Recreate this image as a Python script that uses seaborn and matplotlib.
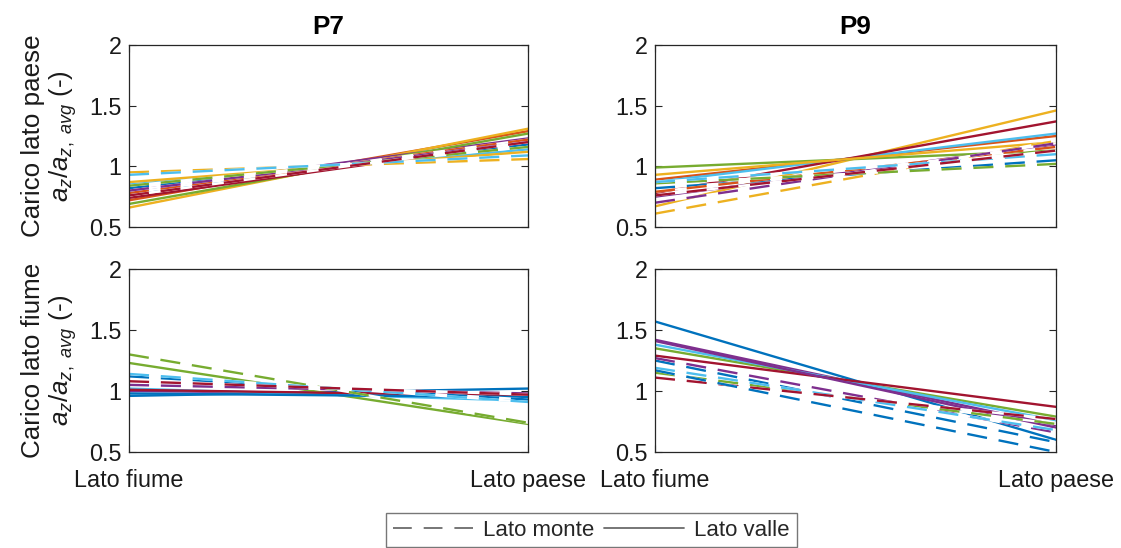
import numpy as np
import pandas as pd
import matplotlib
matplotlib.use("Agg")
import matplotlib.pyplot as plt
from matplotlib.lines import Line2D
import seaborn as sns

sns.set_theme(style="white")
plt.rcParams['font.family'] = ['Liberation Sans', 'DejaVu Sans']
plt.rcParams['mathtext.fontset'] = 'custom'
plt.rcParams['mathtext.rm'] = 'Liberation Sans'
plt.rcParams['mathtext.it'] = 'Liberation Sans:italic'

# MATLAB default colour order
C_BLUE, C_ORANGE, C_YELLOW, C_PURPLE, C_GREEN, C_CYAN, C_RED = (
    "#0072BD", "#D95319", "#EDB120", "#7E2F8E", "#77AC30", "#4DBEEE", "#A2142F")

x_labels = ["Lato fiume", "Lato paese"]
col_titles = ["P7", "P9"]
row_labels = ["Carico lato paese", "Carico lato fiume"]
legend_labels = ["Lato monte", "Lato valle"]

# ---- P7, carico lato paese ----
p7_paese_monte_fiume = [0.82, 0.78, 0.95, 0.80, 0.84, 0.93, 0.76]
p7_paese_monte_paese = [1.18, 1.22, 1.06, 1.20, 1.16, 1.09, 1.20]
p7_paese_monte_col = [C_BLUE, C_ORANGE, C_YELLOW, C_PURPLE, C_GREEN, C_CYAN, C_RED]
p7_paese_valle_fiume = [0.78, 0.72, 0.66, 0.80, 0.69, 0.85, 0.74, 0.87]
p7_paese_valle_paese = [1.22, 1.29, 1.31, 1.23, 1.27, 1.14, 1.20, 1.12]
p7_paese_valle_col = [C_BLUE, C_ORANGE, C_YELLOW, C_PURPLE, C_GREEN, C_CYAN, C_RED, C_YELLOW]

# ---- P9, carico lato paese ----
p9_paese_monte_fiume = [0.82, 0.79, 0.61, 0.70, 0.86, 0.87, 0.76]
p9_paese_monte_paese = [1.05, 1.16, 1.21, 1.19, 1.02, 1.10, 1.13]
p9_paese_monte_col = [C_BLUE, C_ORANGE, C_YELLOW, C_PURPLE, C_GREEN, C_CYAN, C_RED]
p9_paese_valle_fiume = [0.89, 0.67, 0.75, 0.99, 0.87, 0.78, 0.93]
p9_paese_valle_paese = [1.25, 1.46, 1.18, 1.13, 1.27, 1.37, 1.20]
p9_paese_valle_col = [C_ORANGE, C_YELLOW, C_PURPLE, C_GREEN, C_CYAN, C_RED, C_YELLOW]

# ---- P7, carico lato fiume ----
p7_fiume_monte_fiume = [1.12, 1.05, 1.30, 1.14, 1.08]
p7_fiume_monte_paese = [0.93, 0.98, 0.74, 0.91, 0.97]
p7_fiume_monte_col = [C_BLUE, C_PURPLE, C_GREEN, C_CYAN, C_RED]
p7_fiume_valle_fiume = [0.96, 1.00, 1.23, 1.02, 1.01, 0.98]
p7_fiume_valle_paese = [1.02, 0.97, 0.73, 0.92, 0.96, 0.95]
p7_fiume_valle_col = [C_BLUE, C_PURPLE, C_GREEN, C_CYAN, C_RED, C_BLUE]

# ---- P9, carico lato fiume ----
p9_fiume_monte_fiume = [1.25, 1.27, 1.15, 1.19, 1.11, 1.17]
p9_fiume_monte_paese = [0.58, 0.66, 0.73, 0.68, 0.77, 0.50]
p9_fiume_monte_col = [C_BLUE, C_PURPLE, C_GREEN, C_CYAN, C_RED, C_BLUE]
p9_fiume_valle_fiume = [1.57, 1.42, 1.35, 1.38, 1.29, 1.41]
p9_fiume_valle_paese = [0.60, 0.72, 0.79, 0.76, 0.87, 0.70]
p9_fiume_valle_col = [C_BLUE, C_PURPLE, C_GREEN, C_CYAN, C_RED, C_PURPLE]

panels = [
    [(p7_paese_monte_fiume, p7_paese_monte_paese, p7_paese_monte_col,
      p7_paese_valle_fiume, p7_paese_valle_paese, p7_paese_valle_col),
     (p9_paese_monte_fiume, p9_paese_monte_paese, p9_paese_monte_col,
      p9_paese_valle_fiume, p9_paese_valle_paese, p9_paese_valle_col)],
    [(p7_fiume_monte_fiume, p7_fiume_monte_paese, p7_fiume_monte_col,
      p7_fiume_valle_fiume, p7_fiume_valle_paese, p7_fiume_valle_col),
     (p9_fiume_monte_fiume, p9_fiume_monte_paese, p9_fiume_monte_col,
      p9_fiume_valle_fiume, p9_fiume_valle_paese, p9_fiume_valle_col)],
]

W, H = 1121, 548
fig = plt.figure(figsize=(W / 100, H / 100), dpi=100)

col_x = [(129, 399), (655, 401)]
row_y = [(45, 182), (269, 183)]
DASH = (0, (8.5, 5.0))
LW = 1.7
FS = 16.8
FS_LAB = 18.7
AX_COL = "#262626"

for r in range(2):
    for c in range(2):
        x0, w = col_x[c]
        y0, h = row_y[r]
        ax = fig.add_axes([x0 / W, 1 - (y0 + h) / H, w / W, h / H])
        mf, mp, mc, vf, vp, vc = panels[r][c]
        for a, b, col in zip(vf, vp, vc):
            sns.lineplot(x=[0, 1], y=[a, b], ax=ax, color=col, lw=LW,
                         linestyle="-", legend=False)
        for a, b, col in zip(mf, mp, mc):
            sns.lineplot(x=[0, 1], y=[a, b], ax=ax, color="white", lw=LW,
                         linestyle="-", legend=False)
            sns.lineplot(x=[0, 1], y=[a, b], ax=ax, color=col, lw=LW,
                         linestyle=DASH, legend=False)
        ax.set_xlim(0, 1)
        ax.set_ylim(0.5, 2)
        ax.set_yticks([0.5, 1, 1.5, 2])
        ax.set_yticklabels(["0.5", "1", "1.5", "2"])
        ax.set_xticks([0, 1])
        if r == 1:
            ax.set_xticklabels(x_labels)
        else:
            ax.set_xticklabels([])
            ax.set_title(col_titles[c], fontsize=FS_LAB, fontweight="bold",
                         color="black", pad=8)
        ax.tick_params(direction="in", length=5, width=0.8, colors=AX_COL,
                       labelsize=FS, labelcolor="#1a1a1a", top=True, right=True,
                       left=True, bottom=True)
        ax.tick_params(axis="y", pad=5.5)
        ax.tick_params(axis="x", pad=12)
        for s in ax.spines.values():
            s.set_color(AX_COL)
            s.set_linewidth(0.9)
            s.set_visible(True)
        ax.set_xlabel("")
        if c == 0:
            ax.set_ylabel(row_labels[r] + "\n" + r"$a_z/a_{z,\ avg}$ (-)",
                          fontsize=FS_LAB, color="#1a1a1a", linespacing=1.1)
            ax.yaxis.set_label_coords(-0.125, 0.5)
        else:
            ax.set_ylabel("")
        ax.grid(False)

handles = [Line2D([], [], color="#6b6b6b", lw=1.3, linestyle=(0, (10.4, 6.6))),
           Line2D([], [], color="#6b6b6b", lw=1.3, linestyle="-")]
leg = fig.legend(handles, legend_labels, loc="upper center",
                 bbox_to_anchor=(591.5 / W, 1 - 513 / H), ncol=2,
                 fontsize=16, frameon=True, fancybox=False, handlelength=3.6,
                 columnspacing=0.45, handletextpad=0.45, borderpad=0.3,
                 borderaxespad=0)
leg.get_frame().set_edgecolor("#555555")
leg.get_frame().set_linewidth(1.0)

fig.savefig("out.png", dpi=100)
